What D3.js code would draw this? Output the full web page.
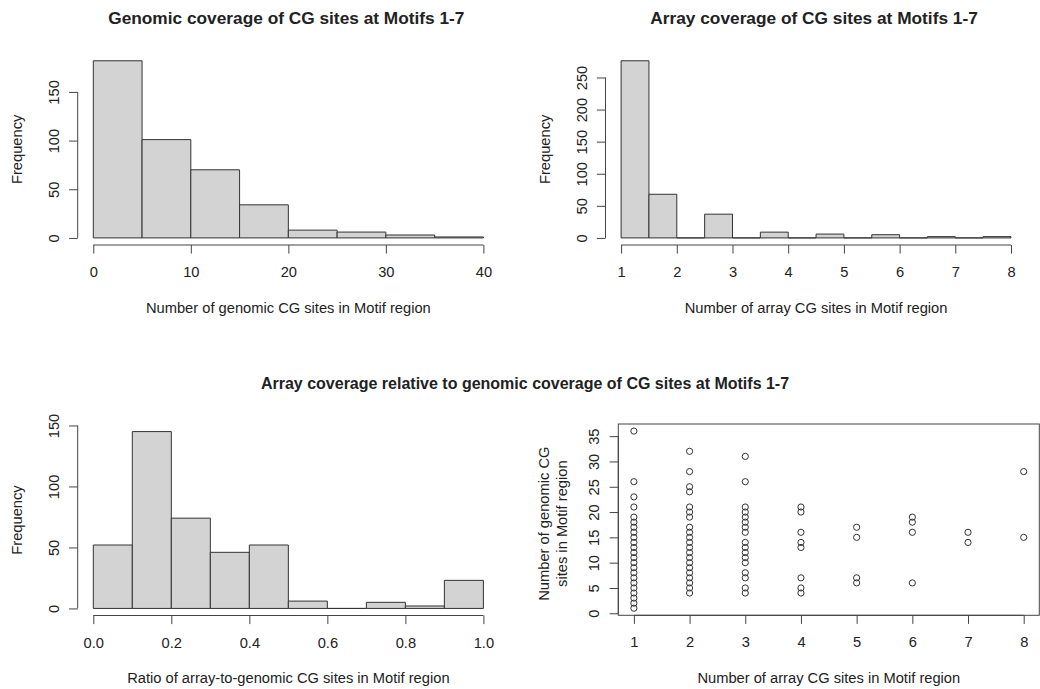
<!DOCTYPE html>
<html>
<head>
<meta charset="utf-8">
<script src="https://cdn.jsdelivr.net/npm/d3@7/dist/d3.min.js"></script>
<style>
  body { margin: 0; background: #fff; }
  svg { display: block; }
  text { font-family: "Liberation Sans", Arial, Helvetica, sans-serif; fill: #222; }
</style>
</head>
<body>
<svg id="chart" width="1040" height="689"></svg>
<script>
// ---- data ----
// genomic CG sites per motif, bins of 5
const genomicBreaks = [0, 5, 10, 15, 20, 25, 30, 35, 40];
const genomicCounts = [182, 101, 70, 34, 8, 6, 3, 1];

// array CG sites per motif, bins of 0.5
const arrayBreaks = [1, 1.5, 2, 2.5, 3, 3.5, 4, 4.5, 5, 5.5, 6, 6.5, 7, 7.5, 8];
const arrayCounts = [276, 68, 0, 37, 0, 9, 0, 6, 0, 5, 0, 2, 0, 2];

// ratio array/genomic, bins of 0.1
const ratioBreaks = [0, 0.1, 0.2, 0.3, 0.4, 0.5, 0.6, 0.7, 0.8, 0.9, 1.0];
const ratioCounts = [52, 145, 74, 46, 52, 6, 0, 5, 2, 23];

// scatter: array sites (x) vs genomic sites (y), distinct points only
const scatterX = [1, 2, 3, 4, 5, 6, 7, 8];
const scatterY = [
  [1, 2, 3, 4, 5, 6, 7, 8, 9, 10, 11, 12, 13, 14, 15, 16, 17, 18, 19, 21, 23, 26, 36],
  [4, 5, 6, 7, 8, 9, 10, 11, 12, 13, 14, 15, 16, 17, 19, 20, 21, 24, 25, 28, 32],
  [4, 5, 7, 8, 10, 11, 12, 13, 14, 16, 17, 18, 19, 20, 21, 26, 31],
  [4, 5, 7, 13, 14, 16, 20, 21],
  [6, 7, 15, 17],
  [6, 16, 18, 19],
  [14, 16],
  [15, 28]
];

// tick labels
const genomicTicks = [0, 10, 20, 30, 40];
const arrayTicks = [1, 2, 3, 4, 5, 6, 7, 8];
const ratioTicks = [0, 0.2, 0.4, 0.6, 0.8, 1.0];
const freqTicksSmall = [0, 50, 100, 150];
const freqTicksLarge = [0, 50, 100, 150, 200, 250];
const scatterYTicks = [0, 5, 10, 15, 20, 25, 30, 35];

// ---- setup ----
const svg = d3.select("#chart");
const FS = 14.7;        // base font size
const TS = 17.3;        // panel title font size
const TICK = 8.6;       // tick length
const AXIS_COL = "#444";

// R style: pad the data range by 4% on each side
function padded(lo, hi) {
  const p = (hi - lo) * 0.04;
  return [lo - p, hi + p];
}

// draws an R-like axis: line only from first to last tick
function drawXAxis(g, x, yPos, ticks, fmt) {
  const ax = g.append("g")
    .attr("transform", `translate(0,${yPos})`)
    .call(d3.axisBottom(x).tickValues(ticks).tickSize(TICK).tickFormat(fmt || d3.format("d")));
  ax.select(".domain").remove();
  ax.attr("font-size", FS).attr("font-family", null);
  ax.selectAll(".tick line").attr("stroke", AXIS_COL);
  ax.selectAll(".tick text").attr("y", 32).attr("dy", null).attr("fill", "#222");
  ax.append("line")
    .attr("x1", x(ticks[0])).attr("x2", x(ticks[ticks.length - 1]))
    .attr("stroke", AXIS_COL);
}

function drawYAxis(g, y, xPos, ticks) {
  const ax = g.append("g")
    .attr("transform", `translate(${xPos},0)`)
    .call(d3.axisLeft(y).tickValues(ticks).tickSize(TICK).tickFormat(d3.format("d")));
  ax.select(".domain").remove();
  ax.attr("font-size", FS).attr("font-family", null);
  ax.selectAll(".tick line").attr("stroke", AXIS_COL);
  ax.selectAll(".tick text")
    .attr("transform", "rotate(-90)")
    .attr("x", 0).attr("y", -19).attr("dy", null)
    .attr("text-anchor", "middle").attr("fill", "#222");
  ax.append("line")
    .attr("y1", y(ticks[0])).attr("y2", y(ticks[ticks.length - 1]))
    .attr("stroke", AXIS_COL);
}

function yTitle(g, xPos, yMid, label) {
  g.append("text")
    .attr("transform", `translate(${xPos},${yMid}) rotate(-90)`)
    .attr("text-anchor", "middle")
    .attr("font-size", FS)
    .text(label);
}

function histogram(opt) {
  const r = opt.rect;
  const g = svg.append("g");
  const x = d3.scaleLinear()
    .domain(padded(opt.breaks[0], opt.breaks[opt.breaks.length - 1]))
    .range([r.left, r.right]);
  const y = d3.scaleLinear()
    .domain(padded(0, d3.max(opt.counts)))
    .range([r.bottom, r.top]);

  const bins = opt.counts.map((c, i) => ({ x0: opt.breaks[i], x1: opt.breaks[i + 1], n: c }));
  g.selectAll("path.bar")
    .data(bins)
    .join("path")
    .attr("class", "bar")
    .attr("d", d => `M${x(d.x0)},${y(0)}V${y(d.n)}H${x(d.x1)}V${y(0)}Z`)
    .attr("fill", "#d3d3d3")
    .attr("stroke", "#333")
    .attr("stroke-width", 1);

  drawXAxis(g, x, r.bottom, opt.xTicks, opt.xFmt);
  drawYAxis(g, y, r.left, opt.yTicks);

  if (opt.title) {
    g.append("text")
      .attr("x", (r.left + r.right) / 2 - 2).attr("y", r.top - 29.7)
      .attr("text-anchor", "middle")
      .attr("font-size", TS).attr("font-weight", "bold").attr("fill", "#111")
      .text(opt.title);
  }
  g.append("text")
    .attr("x", (r.left + r.right) / 2).attr("y", r.bottom + 67.5)
    .attr("text-anchor", "middle")
    .attr("font-size", FS)
    .text(opt.xLabel);
  yTitle(g, r.left - 55.8, (r.top + r.bottom) / 2, "Frequency");
}

// ---- panels ----
histogram({
  rect: { left: 77.7, right: 499, top: 53.7, bottom: 245 },
  breaks: genomicBreaks, counts: genomicCounts,
  xTicks: genomicTicks, yTicks: freqTicksSmall,
  title: "Genomic coverage of CG sites at Motifs 1-7",
  xLabel: "Number of genomic CG sites in Motif region"
});

histogram({
  rect: { left: 605.5, right: 1026.6, top: 53.7, bottom: 245 },
  breaks: arrayBreaks, counts: arrayCounts,
  xTicks: arrayTicks, yTicks: freqTicksLarge,
  title: "Array coverage of CG sites at Motifs 1-7",
  xLabel: "Number of array CG sites in Motif region"
});

histogram({
  rect: { left: 77.7, right: 499, top: 424.5, bottom: 615.5 },
  breaks: ratioBreaks, counts: ratioCounts,
  xTicks: ratioTicks, yTicks: freqTicksSmall, xFmt: d3.format(".1f"),
  xLabel: "Ratio of array-to-genomic CG sites in Motif region"
});

// scatter panel
(function () {
  const r = { left: 618.3, right: 1039.3, top: 424, bottom: 615.3 };
  const g = svg.append("g");
  const pts = scatterX.flatMap((xv, i) => scatterY[i].map(yv => ({ a: xv, b: yv })));
  const x = d3.scaleLinear()
    .domain(padded(d3.min(pts, d => d.a), d3.max(pts, d => d.a)))
    .range([r.left, r.right]);
  const y = d3.scaleLinear()
    .domain(padded(d3.min(pts, d => d.b), d3.max(pts, d => d.b)))
    .range([r.bottom, r.top]);

  g.append("rect")
    .attr("x", r.left).attr("y", r.top)
    .attr("width", r.right - r.left).attr("height", r.bottom - r.top)
    .attr("fill", "none").attr("stroke", AXIS_COL);

  g.selectAll("circle")
    .data(pts)
    .join("circle")
    .attr("cx", d => x(d.a))
    .attr("cy", d => y(d.b))
    .attr("r", 3.1)
    .attr("fill", "none")
    .attr("stroke", "#333")
    .attr("stroke-width", 1);

  drawXAxis(g, x, r.bottom, arrayTicks);
  drawYAxis(g, y, r.left, scatterYTicks);

  g.append("text")
    .attr("x", (r.left + r.right) / 2).attr("y", r.bottom + 67.5)
    .attr("text-anchor", "middle")
    .attr("font-size", FS)
    .text("Number of array CG sites in Motif region");
  const mid = (r.top + r.bottom) / 2 + 4;
  yTitle(g, r.left - 69.6, mid, "Number of genomic CG");
  yTitle(g, r.left - 51.4, mid, "sites in Motif region");

  // overall title for the bottom row
  svg.append("text")
    .attr("x", 525).attr("y", 389)
    .attr("text-anchor", "middle")
    .attr("font-size", 16).attr("font-weight", "bold").attr("fill", "#111")
    .text("Array coverage relative to genomic coverage of CG sites at Motifs 1-7");
})();
</script>
</body>
</html>
